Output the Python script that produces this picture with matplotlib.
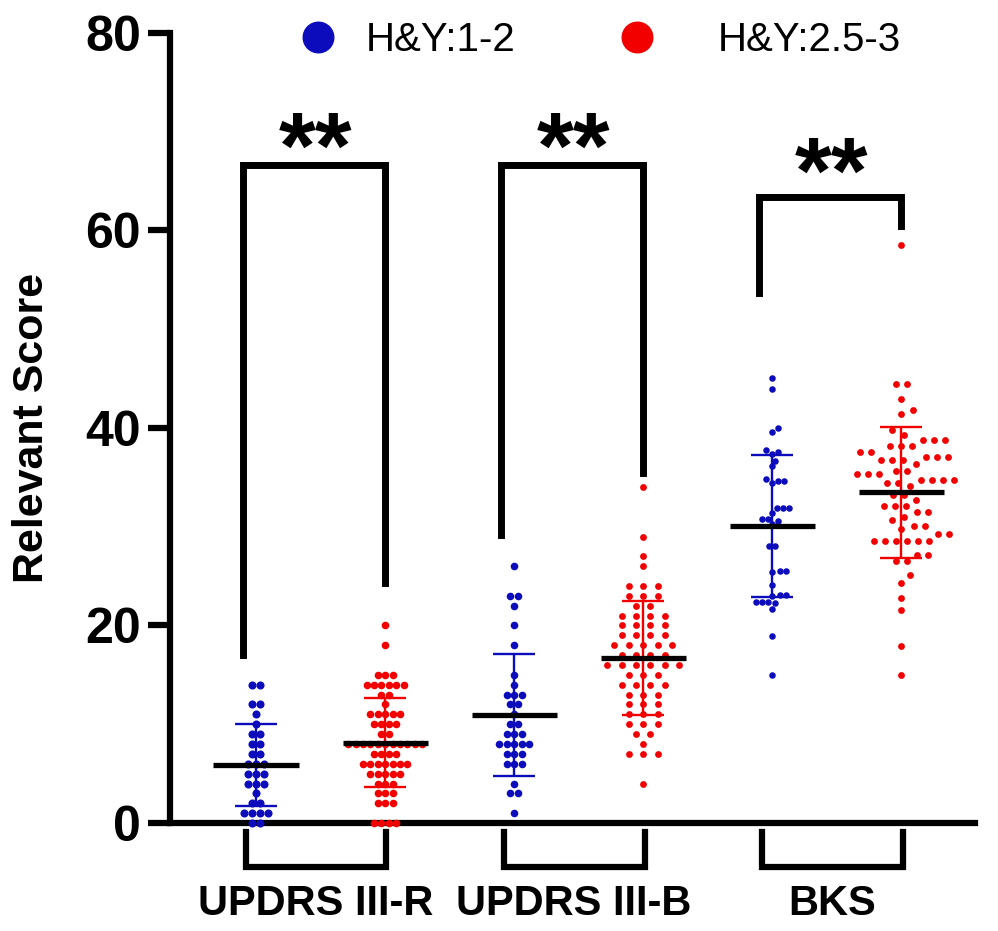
import numpy as np
import matplotlib
matplotlib.use('Agg')
import matplotlib.pyplot as plt
from matplotlib.lines import Line2D

plt.rcParams['font.family'] = ['Liberation Sans', 'DejaVu Sans']

groups = ['UPDRS III-R', 'UPDRS III-B', 'BKS']
legend_labels = ['H&Y:1-2', 'H&Y:2.5-3']

# UPDRS scores are integers: score value / number of patients with it
r_blue_vals = [14, 12, 11, 10, 9, 8, 7, 6, 5, 4, 3, 2, 1, 0]
r_blue_counts = [2, 2, 1, 1, 2, 2, 2, 3, 3, 3, 1, 2, 4, 2]
r_red_vals = [20, 18, 15, 14, 13, 12, 11, 10, 9, 8, 7, 6, 5, 4, 3, 2, 0]
r_red_counts = [1, 1, 3, 6, 2, 1, 5, 4, 2, 11, 4, 7, 5, 3, 3, 3, 4]
b_blue_vals = [26, 23, 22, 20, 18, 15, 14, 13, 12, 11, 10, 9, 8, 7, 6, 4, 3, 1]
b_blue_counts = [1, 2, 1, 1, 1, 1, 1, 3, 2, 1, 2, 3, 5, 3, 3, 1, 2, 1]
b_red_vals = [34, 29, 27, 26, 24, 23, 22, 21, 20, 19, 18, 17, 16, 15, 14, 13,
              12, 11, 10, 9, 8, 7, 4]
b_red_counts = [1, 1, 1, 1, 3, 3, 2, 4, 4, 4, 5, 4, 6, 3, 4, 3,
                3, 3, 3, 2, 1, 3, 1]

# BKS scores
bks_blue = [45.1, 43.9, 40.0, 39.6, 37.8, 37.6, 37.4, 36.7, 36.1, 34.8, 34.6,
            34.6, 34.4, 31.9, 31.9, 31.9, 31.4, 30.8, 30.8, 30.6, 30.3, 28.0,
            28.0, 25.5, 25.5, 25.4, 24.1, 23.1, 23.1, 23.0, 22.4, 22.4, 22.4,
            22.3, 21.7, 18.9, 15.0]
bks_red = [58.5, 44.5, 44.5, 42.9, 41.8, 41.4, 39.8, 39.3, 38.8, 38.8, 38.8,
           38.2, 38.2, 38.2, 37.6, 37.6, 37.1, 37.1, 37.1, 36.8, 36.8, 36.8,
           36.4, 35.6, 35.6, 35.3, 35.3, 35.3, 34.7, 34.7, 34.7, 34.7, 34.4,
           34.4, 34.1, 33.2, 33.2, 32.7, 32.1, 32.1, 32.1, 31.5, 31.5, 31.0,
           30.7, 30.1, 30.1, 29.8, 29.3, 29.3, 28.6, 28.6, 28.6, 28.6, 28.6,
           28.6, 27.1, 27.1, 26.5, 26.5, 25.1, 24.3, 22.8, 21.6, 17.9, 15.0]

# significance brackets: (top, left leg end, right leg end), star height
sig_top = [66.6, 66.6, 63.4]
sig_left_end = [17.0, 29.2, 53.7]
sig_right_end = [24.3, 35.4, 60.5]
sig_star_y = [70.0, 70.0, 67.5]
sig_text = ['**', '**', '**']

blue = '#0c0cbc'
red = '#f20000'

columns = [
    np.repeat(r_blue_vals, r_blue_counts).astype(float),
    np.repeat(r_red_vals, r_red_counts).astype(float),
    np.repeat(b_blue_vals, b_blue_counts).astype(float),
    np.repeat(b_red_vals, b_red_counts).astype(float),
    np.array(bks_blue),
    np.array(bks_red),
]
colors = [blue, red, blue, red, blue, red]
# layout per column: ('row', spacing px) or ('swarm', min dist px, step px)
layouts = [('row', 7.8), ('row', 7.4), ('row', 7.6), ('row', 14.4),
           ('swarm', 6.2, 1.5), ('swarm', 11.0, 3.0)]
dot_sizes = [34, 30, 30, 24, 22, 24]


def row_offsets(vals, spacing):
    off = np.zeros(len(vals))
    for v in np.unique(vals):
        idx = np.where(vals == v)[0]
        n = len(idx)
        off[idx] = (np.arange(n) - (n - 1) / 2) * spacing
    return off


def swarm_offsets(ypx, d, step):
    off = np.zeros(len(ypx))
    placed = []
    shifts = [0.0]
    for k in range(1, 300):
        shifts += [k * step, -k * step]
    for v in np.unique(ypx):
        idx = np.where(ypx == v)[0]
        n = len(idx)
        base = (np.arange(n) - (n - 1) / 2) * d
        for s in shifts:
            ok = True
            for b in base:
                for (px, py) in placed:
                    if (b + s - px) ** 2 + (v - py) ** 2 < d * d:
                        ok = False
                        break
                if not ok:
                    break
            if ok:
                break
        off[idx] = base + s
        for b in base:
            placed.append((b + s, v))
    return off


fig = plt.figure(figsize=(9.98, 9.31), dpi=100)
ax = fig.add_axes([0.1703, 0.116, 0.8066, 0.8486])
ax.set_xlim(-0.667, 5.57)
ax.set_ylim(0, 80)

p0 = ax.transData.transform((0, 0))
p1 = ax.transData.transform((1, 1))
px_x = p1[0] - p0[0]
px_y = p1[1] - p0[1]

for i, vals in enumerate(columns):
    lay = layouts[i]
    if lay[0] == 'row':
        off = row_offsets(vals, lay[1])
    else:
        off = swarm_offsets(vals * px_y, lay[1], lay[2])
    ax.scatter(i + off / px_x, vals, s=dot_sizes[i], color=colors[i],
               linewidths=0, zorder=3, clip_on=False)
    m = vals.mean()
    sd = vals.std(ddof=1)
    ax.vlines(i, m - sd, m + sd, color=colors[i], lw=1.7, zorder=4)
    ax.hlines([m - sd, m + sd], i - 0.163, i + 0.163, color=colors[i],
              lw=1.7, zorder=4)
    ax.hlines(m, i - 0.33, i + 0.33, color='black', lw=3.8, zorder=5)

# significance brackets and stars
star_fs = 68
for g in range(3):
    xl = 2 * g - 0.1
    xr = 2 * g + 1.0
    ax.plot([xl, xl, xr, xr],
            [sig_left_end[g], sig_top[g], sig_top[g], sig_right_end[g]],
            color='black', lw=5, solid_joinstyle='miter', clip_on=False,
            zorder=6)
    ax.annotate(sig_text[g], (2 * g + 0.46, sig_star_y[g]),
                xytext=(0, -0.49 * star_fs), textcoords='offset points',
                ha='center', va='baseline', fontsize=star_fs,
                fontweight='bold', annotation_clip=False)

# group brackets below the x axis
xt = ax.get_xaxis_transform()
for g in range(3):
    xl = 2 * g - 0.08
    xr = 2 * g + 1.01
    ax.plot([xl, xl, xr, xr], [-0.012, -0.056, -0.056, -0.012], color='black',
            lw=4.5, solid_joinstyle='miter', transform=xt, clip_on=False)
    ax.text(2 * g + 0.46, -0.102, groups[g], transform=xt, ha='center',
            va='center', fontsize=30, fontweight='bold')

for side in ['top', 'right']:
    ax.spines[side].set_visible(False)
for side in ['left', 'bottom']:
    ax.spines[side].set_linewidth(4.5)
ax.set_xticks([])
ax.set_yticks([0, 20, 40, 60, 80])
ax.tick_params(axis='y', length=16, width=4.5, labelsize=36, pad=5)
for lbl in ax.get_yticklabels():
    lbl.set_fontweight('bold')
ax.set_ylabel('Relevant Score', fontsize=31, fontweight='bold', labelpad=24)

# legend entries, placed as in the original figure
leg_x = [298 / 998, 617 / 998]
leg_pad = [0.675, 1.5]
for k, c in enumerate([blue, red]):
    h = Line2D([], [], marker='o', ls='', color=c, markersize=22)
    fig.legend([h], [legend_labels[k]], loc='center left',
               bbox_to_anchor=(leg_x[k], 1 - 40 / 931), frameon=False,
               fontsize=29, handlelength=1.0, handletextpad=leg_pad[k],
               borderpad=0, borderaxespad=0)

fig.savefig('out.png', dpi=100)
